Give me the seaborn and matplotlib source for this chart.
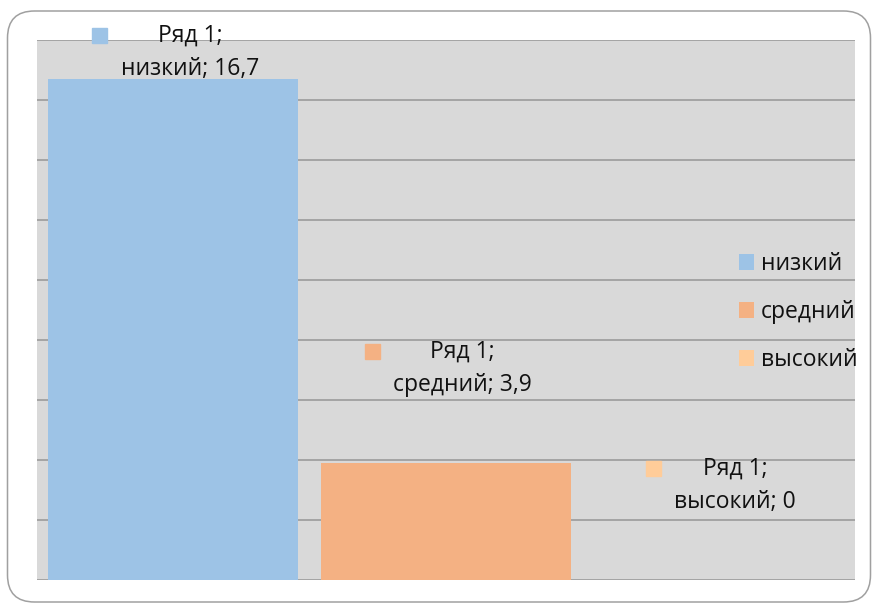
import matplotlib
matplotlib.use("Agg")
import matplotlib.pyplot as plt
import seaborn as sns
import pandas as pd
from matplotlib.patches import Patch, FancyBboxPatch
from matplotlib.transforms import IdentityTransform

# ---- data ----
categories = ['низкий', 'средний', 'высокий']
values = [16.7, 3.9, 0]
series_name = 'Ряд 1'
colors = ['#9DC3E6', '#F4B183', '#FFCC99']

sns.set_style('white')
plt.rcParams['font.family'] = ['Open Sans', 'DejaVu Sans']

FS = 16.5
TXT = '#111111'

fig = plt.figure(figsize=(8.73, 6.03), dpi=100)
ax = fig.add_axes([37 / 873, 23 / 603, (855 - 37) / 873, (580 - 40) / 603])

df = pd.DataFrame({'cat': categories, 'val': values})
sns.barplot(data=df, x='cat', y='val', hue='cat', palette=colors,
            width=0.917, legend=False, ax=ax, saturation=1, zorder=2,
            edgecolor='none', linewidth=0)

ax.set_facecolor('#D9D9D9')
ax.set_xlim(-0.5, len(categories) - 0.5)
ax.set_ylim(0, 18)
ax.set_yticks(range(0, 19, 2))
ax.set_axisbelow(True)
ax.yaxis.grid(True, color='#A0A0A0', linewidth=1.3)
ax.xaxis.grid(False)
for s in ax.spines.values():
    s.set_visible(False)
ax.tick_params(length=0, labelbottom=False, labelleft=False)
ax.set_xlabel('')
ax.set_ylabel('')

# ---- data labels with legend keys ----
fig.canvas.draw()
renderer = fig.canvas.get_renderer()
label_offset = 3.15
label_cap = 17.6
texts = []
for i, (cat, v) in enumerate(zip(categories, values)):
    vs = f"{v:g}".replace('.', ',')
    y = min(v + label_offset, label_cap)
    t = ax.annotate(f"{series_name};\n{cat}; {vs}", xy=(i, y), xytext=(12, 0),
                    textcoords='offset points', ha='center', va='center',
                    fontsize=FS, color=TXT, linespacing=1.5,
                    annotation_clip=False)
    texts.append(t)

fig.canvas.draw()
inv = ax.transData.inverted()
for i, t in enumerate(texts):
    bb = t.get_window_extent(renderer)
    mx = bb.x0 - 14 - 7.5
    my = bb.y1 - bb.height * 0.25 + 3
    dx, dy = inv.transform((mx, my))
    ax.plot([dx], [dy], marker='s', markersize=10.8, color=colors[i],
            linestyle='', clip_on=False, zorder=5)

# ---- legend ----
handles = [Patch(facecolor=c, edgecolor='none', label=cat)
           for c, cat in zip(colors, categories)]
fig.legend(handles=handles, loc='center left',
           bbox_to_anchor=(739 / 873, 1 - 312 / 603),
           frameon=False, fontsize=FS, handlelength=0.65, handleheight=0.65,
           handletextpad=0.3, labelspacing=1.05, borderpad=0, borderaxespad=0,
           labelcolor=TXT)

# ---- outer rounded frame ----
frame = FancyBboxPatch((7.5, 1), 863, 591,
                       boxstyle='round,pad=0,rounding_size=27',
                       transform=IdentityTransform(), facecolor='none',
                       edgecolor='#A0A0A0', linewidth=1.1, zorder=0)
fig.add_artist(frame)

fig.savefig('out.png', dpi=100)
